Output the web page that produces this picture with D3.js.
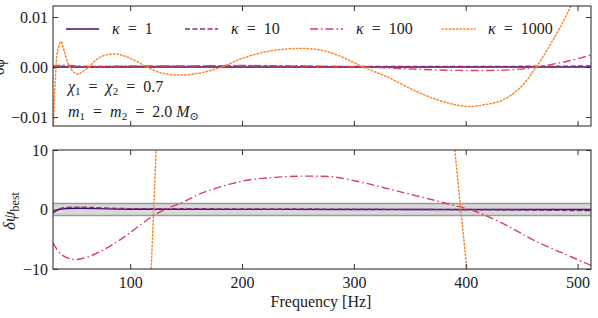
<!DOCTYPE html>
<html>
<head>
<meta charset="utf-8">
<script src="https://cdn.jsdelivr.net/npm/d3@7"></script>
<style>
  body { margin: 0; background: #fff; }
  svg text { font-family: "Liberation Serif", "Times New Roman", Tinos, "DejaVu Serif", "Noto Serif", serif; fill: #222; }
</style>
</head>
<body>
<div id="chart"></div>
<script>
// Waveform residuals vs frequency for different kappa values

const serif = '"Liberation Serif", "Times New Roman", Tinos, "DejaVu Serif", "Noto Serif", serif';

const freqDomain = [31, 512];
const xTicks = [100, 200, 300, 400, 500];
const topTicks = [-0.01, 0, 0.01];
const bottomTicks = [-10, 0, 10];
const band = [-1, 1];

const labels = ['\u03ba = 1', '\u03ba = 10', '\u03ba = 100', '\u03ba = 1000'];
const colors = ['#3b0f70', '#8c2981', '#d6435b', '#f8892e'];
const dashes = [null, '5,2.5', '8,3,1.5,3', '1.4,2.2'];

// top panel: [frequency, residual]
const topK1 = [[31, 0], [512, 0]];
const topK10 = [[31, 0.0002], [60, 0.0001], [200, 0.0002], [300, 0.0001], [400, 0.0001], [512, 0.0002]];
const topK100 = [[31, -0.0003], [36, 0.0003], [60, 0.0001], [100, 0.0002], [150, 0.0002], [200, 0.0003],
  [250, 0.0002], [308, 0], [340, -0.0003], [376, -0.0006], [420, -0.0007], [445, -0.0005], [463, 0],
  [490, 0.0011], [512, 0.0024]];
const topK1000 = [[31, -0.014], [33, -0.003], [35, 0.003], [38, 0.0051], [41, 0.0032], [45, 0.0004],
  [50, -0.0011], [54, -0.0014], [58, -0.0008], [63, 0], [70, 0.0015], [78, 0.0024], [87, 0.0026],
  [96, 0.0021], [105, 0.0012], [115, 0], [125, -0.001], [136, -0.0015], [147, -0.0016], [160, -0.0013],
  [170, -0.0008], [182, 0], [200, 0.0017], [220, 0.003], [240, 0.0036], [255, 0.0037], [270, 0.0034],
  [285, 0.0024], [298, 0.0011], [308, 0], [329, -0.0019], [356, -0.0049], [374, -0.0065], [388, -0.0074],
  [402, -0.0079], [418, -0.0075], [433, -0.0066], [448, -0.0043], [463, 0], [478, 0.0054], [493, 0.0117],
  [505, 0.018]];

// bottom panel: [frequency, delta psi best]
const botK1 = [[31, -0.6], [36, 0], [100, 0.05], [300, 0], [512, 0]];
const botK10 = [[31, -0.5], [38, 0.2], [100, 0.15], [300, 0.05], [450, -0.1], [512, -0.2]];
const botK100 = [[31, -5.6], [38, -7.5], [49, -8.4], [60, -8.1], [73, -7.1], [85, -5.8], [97, -4.3],
  [109, -2.6], [121, -1.0], [131, 0], [148, 1.3], [162, 2.6], [177, 3.6], [192, 4.4], [207, 5.0],
  [222, 5.3], [237, 5.5], [252, 5.6], [266, 5.6], [281, 5.5], [296, 5.0], [311, 4.4], [326, 3.7],
  [341, 3.0], [356, 2.3], [371, 1.6], [387, 0.8], [404, 0], [420, -1.2], [440, -3.0], [460, -5.1],
  [485, -7.2], [512, -9.4]];
const botK1000 = [[112, -28], [118.8, -10], [121, 0], [123.2, 10], [130, 30], [380, 30], [390.2, 10],
  [395.6, 0], [401, -10], [408, -28]];

const width = 598, height = 318;
const left = 53, right = 591;
const topPanel = { y0: 6, y1: 126, domain: [-0.0118, 0.0122], ticks: topTicks };
const botPanel = { y0: 150, y1: 269, domain: [-10, 10], ticks: bottomTicks };

const svg = d3.select('#chart').append('svg')
  .attr('width', width).attr('height', height);

const x = d3.scaleLinear().domain(freqDomain).range([left, right]);

function panel(p, id) {
  const y = d3.scaleLinear().domain(p.domain).range([p.y1, p.y0]);
  svg.append('clipPath').attr('id', id)
    .append('rect').attr('x', left).attr('y', p.y0)
    .attr('width', right - left).attr('height', p.y1 - p.y0);
  const g = svg.append('g');
  const plot = g.append('g').attr('clip-path', `url(#${id})`);
  return { y, g, plot };
}

function frame(pn, p, showX, fmt) {
  const g = pn.g;
  // ticks on all four sides, pointing inward
  g.append('g').attr('transform', `translate(0,${p.y1})`)
    .call(d3.axisBottom(x).tickValues(xTicks).tickSizeInner(-5).tickSizeOuter(0)
      .tickFormat(showX ? d3.format('d') : ''))
    .call(a => a.select('.domain').remove())
    .call(a => a.selectAll('text').attr('y', 19).attr('dy', 0));
  g.append('g').attr('transform', `translate(0,${p.y0})`)
    .call(d3.axisTop(x).tickValues(xTicks).tickSizeInner(-5).tickSizeOuter(0).tickFormat(''))
    .call(a => a.select('.domain').remove());
  g.append('g').attr('transform', `translate(${left},0)`)
    .call(d3.axisLeft(pn.y).tickValues(p.ticks).tickSizeInner(-5).tickSizeOuter(0).tickFormat(fmt))
    .call(a => a.select('.domain').remove())
    .call(a => a.selectAll('text').attr('x', -5));
  g.append('g').attr('transform', `translate(${right},0)`)
    .call(d3.axisRight(pn.y).tickValues(p.ticks).tickSizeInner(-5).tickSizeOuter(0).tickFormat(''))
    .call(a => a.select('.domain').remove());
  g.selectAll('g').attr('font-family', serif).attr('font-size', 16);
  g.selectAll('.tick line').attr('stroke', '#333').attr('stroke-width', 1);
  g.selectAll('.tick text').attr('fill', '#222');
  g.append('rect').attr('x', left).attr('y', p.y0)
    .attr('width', right - left).attr('height', p.y1 - p.y0)
    .attr('fill', 'none').attr('stroke', '#333').attr('stroke-width', 1.1);
}

function drawSeries(pn, series, curve) {
  const line = d3.line().x(d => x(d[0])).y(d => pn.y(d[1])).curve(curve);
  series.forEach((s, i) => {
    pn.plot.append('path').datum(s)
      .attr('d', line)
      .attr('fill', 'none')
      .attr('stroke', colors[i])
      .attr('stroke-width', i === 3 ? 1.5 : 1.4)
      .attr('stroke-dasharray', dashes[i])
      .attr('stroke-linecap', i === 3 ? 'round' : 'butt');
  });
}

// ---- top panel
const pTop = panel(topPanel, 'clipTop');
drawSeries(pTop, [topK1, topK10, topK100, topK1000], d3.curveCatmullRom);
frame(pTop, topPanel, false, d3.format('.2f'));

// legend
const legendX = [66, 185, 310, 442];
labels.forEach((lab, i) => {
  const lg = svg.append('g').attr('transform', `translate(${legendX[i]},29)`);
  lg.append('line').attr('x1', 0).attr('x2', 33).attr('y1', 0).attr('y2', 0)
    .attr('stroke', colors[i]).attr('stroke-width', 1.5)
    .attr('stroke-dasharray', dashes[i])
    .attr('stroke-linecap', i === 3 ? 'round' : 'butt');
  const parts = lab.split(' = ');
  const t = lg.append('text').attr('x', 46).attr('y', 5).style('font-size', '16px');
  t.append('tspan').style('font-style', 'italic').text(parts[0]);
  t.append('tspan').text('\u2002=\u2002' + parts[1]);
});

// annotations
const sp = '\u2002=\u2002';
const ann1 = svg.append('text').attr('x', 68).attr('y', 92).style('font-size', '16px');
ann1.append('tspan').style('font-style', 'italic').text('\u03c7');
ann1.append('tspan').attr('dy', 3).style('font-size', '11px').text('1');
ann1.append('tspan').attr('dy', -3).text(sp);
ann1.append('tspan').style('font-style', 'italic').text('\u03c7');
ann1.append('tspan').attr('dy', 3).style('font-size', '11px').text('2');
ann1.append('tspan').attr('dy', -3).text(sp + '0.7');

const ann2 = svg.append('text').attr('x', 68).attr('y', 117).style('font-size', '16px');
ann2.append('tspan').style('font-style', 'italic').text('m');
ann2.append('tspan').attr('dy', 3).style('font-size', '11px').text('1');
ann2.append('tspan').attr('dy', -3).text(sp);
ann2.append('tspan').style('font-style', 'italic').text('m');
ann2.append('tspan').attr('dy', 3).style('font-size', '11px').text('2');
ann2.append('tspan').attr('dy', -3).text(sp + '2.0 ');
ann2.append('tspan').style('font-style', 'italic').text('M');
ann2.append('tspan').attr('dy', 3).style('font-size', '11px').text('\u2299');

// cut-off label of the top panel
svg.append('text').attr('transform', 'translate(4,67) rotate(-90)')
  .attr('text-anchor', 'middle').style('font-size', '16px').attr('fill', '#999').text('\u03b4\u03d5');

// ---- bottom panel
const pBot = panel(botPanel, 'clipBot');
pBot.plot.append('rect')
  .attr('x', left).attr('width', right - left)
  .attr('y', pBot.y(band[1])).attr('height', pBot.y(band[0]) - pBot.y(band[1]))
  .attr('fill', '#d9d9d9');
band.forEach(b => {
  pBot.plot.append('line').attr('x1', left).attr('x2', right)
    .attr('y1', pBot.y(b)).attr('y2', pBot.y(b))
    .attr('stroke', '#9a9a9a').attr('stroke-width', 1.5);
});
drawSeries(pBot, [botK1, botK10, botK100], d3.curveCatmullRom);
drawSeries(pBot, [[], [], [], botK1000], d3.curveLinear);
frame(pBot, botPanel, true, d3.format('d'));

// axis labels
svg.append('text').attr('x', 321).attr('y', 307).attr('text-anchor', 'middle')
  .style('font-size', '16px').text('Frequency [Hz]');

const yl = svg.append('text').attr('transform', 'translate(15,211) rotate(-90)')
  .attr('text-anchor', 'middle').style('font-size', '17px');
yl.append('tspan').style('font-style', 'italic').text('\u03b4\u03c8');
yl.append('tspan').attr('dy', 4).style('font-size', '12px').text('best');
</script>
</body>
</html>
